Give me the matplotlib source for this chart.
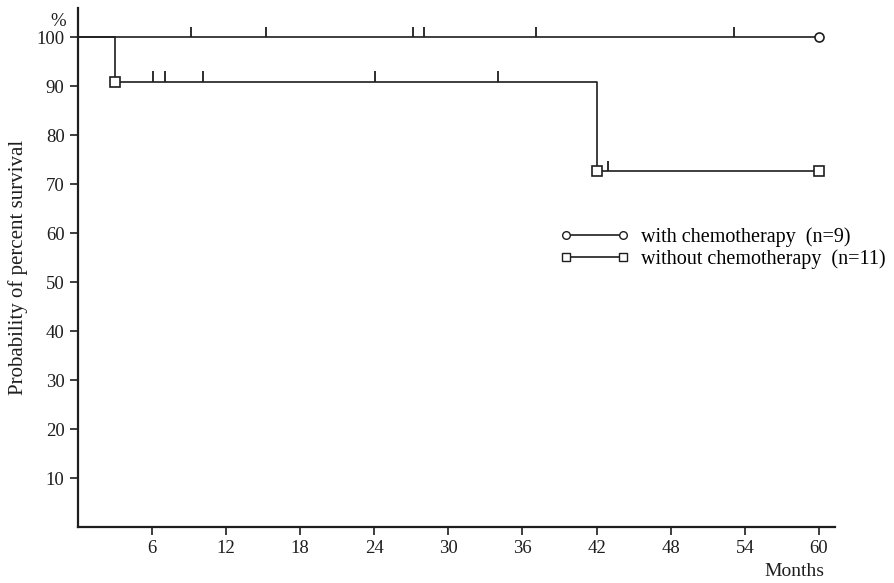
import numpy as np
import matplotlib
matplotlib.use('Agg')
import matplotlib.pyplot as plt
from matplotlib.lines import Line2D

# 데이터
with_t = [0, 60]
with_s = [100, 100]
with_cens_t = [9.2, 15.2, 27.1, 28.0, 37.1, 53.1]

without_t = [0, 3, 42, 60]
without_s = [100, 90.9, 72.7, 72.7]
without_cens_t = [6.1, 7.1, 10.1, 24.1, 34.0, 42.9]
without_mark_t = [3, 42, 60]

x_ticks = [6, 12, 18, 24, 30, 36, 42, 48, 54, 60]
y_ticks = [10, 20, 30, 40, 50, 60, 70, 80, 90, 100]

labels = ['with chemotherapy  (n=9)', 'without chemotherapy  (n=11)']

plt.rcParams['font.family'] = ['Liberation Serif', 'DejaVu Serif']
col = '#1e1e1e'

fig = plt.figure(figsize=(8.94, 5.83), dpi=100)
ax = fig.add_axes([0.087, 0.096, 0.847, 0.890])

# 생존 곡선
ax.step(with_t, with_s, where='post', color=col, lw=1.2)
ax.step(without_t, without_s, where='post', color=col, lw=1.2)


def surv_at(t, times, surv):
    idx = np.searchsorted(times, t, side='right') - 1
    return np.array(surv)[idx]


# 중도절단 표시
ax.vlines(with_cens_t, surv_at(with_cens_t, with_t, with_s),
          surv_at(with_cens_t, with_t, with_s) + 2.1, color=col, lw=1.3)
ax.vlines(without_cens_t, surv_at(without_cens_t, without_t, without_s),
          surv_at(without_cens_t, without_t, without_s) + 2.1, color=col, lw=1.3)

ax.plot([60], [100], 'o', ms=6.5, mfc='white', mec=col, mew=1.2, zorder=5)
ax.plot(without_mark_t, surv_at(without_mark_t, without_t, without_s), 's',
        ms=6.5, mfc='white', mec=col, mew=1.2, zorder=5)

ax.set_xlim(0, 61.3)
ax.set_ylim(0, 105.9)
ax.set_xticks(x_ticks)
ax.set_yticks(y_ticks)
ax.tick_params(labelsize=13.5, length=6, width=1.2, colors=col, direction='out')
for s in ['top', 'right']:
    ax.spines[s].set_visible(False)
for s in ['left', 'bottom']:
    ax.spines[s].set_linewidth(1.6)
    ax.spines[s].set_color(col)

ax.set_ylabel('Probability of percent survival', fontsize=15, color=col, labelpad=6)
ax.text(-0.015, 0.975, '%', transform=ax.transAxes, fontsize=13.5, ha='right', va='center', color=col)
ax.text(0.947, -0.085, 'Months', transform=ax.transAxes, fontsize=14, ha='center', va='center', color=col)

handles = [
    Line2D([], [], color=col, lw=1.2, marker='o', ms=5.5, mfc='white', mec=col),
    Line2D([], [], color=col, lw=1.2, marker='s', ms=5.5, mfc='white', mec=col),
]
ax.legend(handles, labels, loc='upper left', bbox_to_anchor=(0.637, 0.577),
          frameon=False, numpoints=2, handlelength=3.4, fontsize=14.5,
          labelspacing=0.1, handletextpad=0.6, borderpad=0, borderaxespad=0)

plt.savefig('out.png', dpi=100)
